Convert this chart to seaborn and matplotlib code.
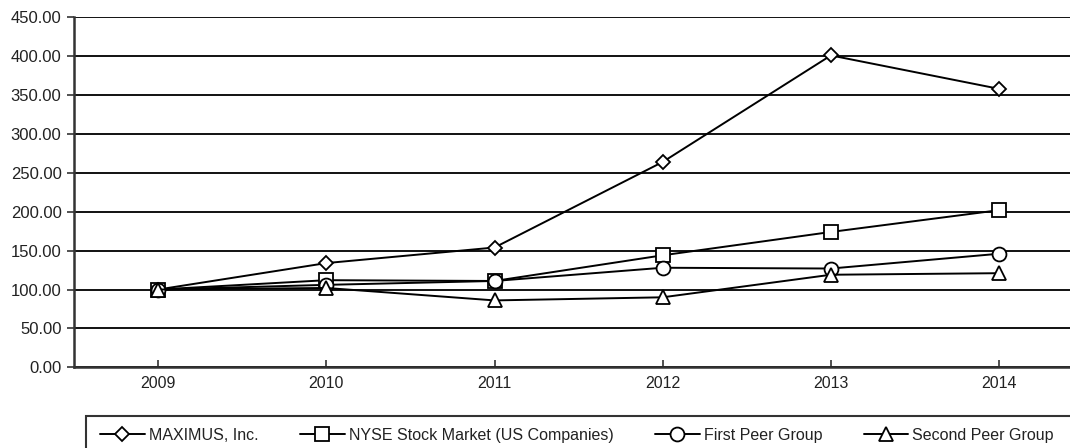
import pandas as pd
import matplotlib.pyplot as plt
import seaborn as sns
from matplotlib.patches import Rectangle
from matplotlib.ticker import FormatStrFormatter

# values
years = [2009, 2010, 2011, 2012, 2013, 2014]
maximus = [100, 134, 154, 264, 401, 358]
nyse = [100, 112, 111, 144, 174, 202]
first_peer = [100, 106, 111, 128, 127, 146]
second_peer = [100, 102, 86, 90, 119, 121]
names = ['MAXIMUS, Inc.', 'NYSE Stock Market (US Companies)',
         'First Peer Group', 'Second Peer Group']

data = pd.DataFrame({
    'Year': years * 4,
    'Value': maximus + nyse + first_peer + second_peer,
    'Series': [n for n in names for _ in years],
})

sns.set_style('white')
plt.rcParams['font.family'] = ['Liberation Sans', 'DejaVu Sans']

fig = plt.figure(figsize=(10.7, 4.48), dpi=100)
ax = fig.add_axes([74 / 1070, 1 - 367.3 / 448, (1070 - 74) / 1070, 350 / 448])

markers = {names[0]: 'D', names[1]: 's', names[2]: 'o', names[3]: '^'}
sizes = {names[0]: 7.5, names[1]: 9.5, names[2]: 10, names[3]: 10}
for name in names:
    sub = data[data['Series'] == name]
    sns.lineplot(data=sub, x='Year', y='Value', ax=ax, color='black',
                 marker=markers[name], markersize=sizes[name],
                 markerfacecolor='white', markeredgecolor='black',
                 markeredgewidth=1.3, linewidth=1.4, label=name,
                 legend=False, zorder=3)

ax.set_xlim(2008.5, 2008.5 + (1070 - 74) / 168.2)
ax.set_ylim(0, 450)
ax.set_yticks(range(0, 451, 50))
ax.set_xticks(years)
ax.yaxis.set_major_formatter(FormatStrFormatter('%.2f'))
ax.grid(axis='y', color='#111111', linewidth=1.4)
ax.grid(axis='x', visible=False)
ax.set_xlabel('')
ax.set_ylabel('')

for side in ['top', 'right']:
    ax.spines[side].set_visible(False)
for side in ['left', 'bottom']:
    ax.spines[side].set_color('#333333')
    ax.spines[side].set_linewidth(1.8)

ax.tick_params(axis='y', direction='out', length=5, width=1.2, color='#333333',
               pad=4, labelsize=12, labelcolor='#222222', left=True)
ax.tick_params(axis='x', direction='in', length=5, width=1.2, color='#333333',
               pad=6, labelsize=11.5, labelcolor='#222222', bottom=True)

# legend box along the bottom
fig.patches.append(Rectangle((86 / 1070, -0.05), 1.0, 1 - 416 / 448 + 0.05,
                             transform=fig.transFigure, fill=False,
                             edgecolor='#333333', linewidth=1.5))
handles, labels = ax.get_legend_handles_labels()
fig.legend(handles, labels, ncol=4, loc='center left', frameon=False,
           bbox_to_anchor=(100 / 1070, 1 - 435 / 448), fontsize=11.5,
           handlelength=2.8, handletextpad=0.25, columnspacing=2.6,
           labelcolor='#222222', borderaxespad=0, borderpad=0)

plt.savefig('out.png', dpi=100)
